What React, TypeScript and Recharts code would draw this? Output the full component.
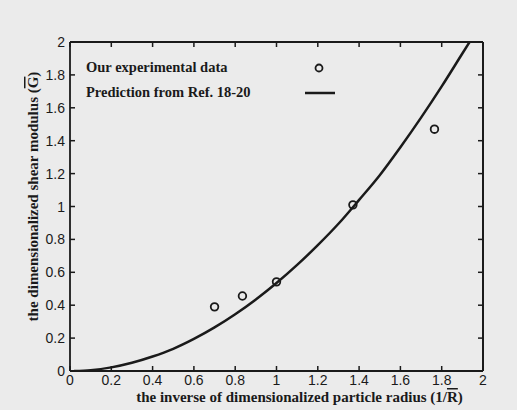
import React from "react";
import {
  ComposedChart,
  Line,
  Scatter,
  XAxis,
  YAxis,
  ReferenceLine,
} from "recharts";

// experimental points
const expX = [0.7, 0.835, 1.0, 1.37, 1.765];
const expY = [0.39, 0.456, 0.542, 1.01, 1.47];

// prediction curve (Ref. 18-20)
const predX = [0.02, 0.1, 0.2, 0.3, 0.4, 0.5, 0.6, 0.7, 0.8, 0.9, 1.0, 1.1, 1.2, 1.3, 1.4, 1.5, 1.6, 1.7, 1.8, 1.9, 1.935];
const predY = [0, 0.005, 0.022, 0.05, 0.088, 0.135, 0.195, 0.265, 0.345, 0.435, 0.535, 0.645, 0.765, 0.895, 1.04, 1.19, 1.36, 1.54, 1.73, 1.93, 2.0];

const xTicks = [0, 0.2, 0.4, 0.6, 0.8, 1, 1.2, 1.4, 1.6, 1.8, 2];
const yTicks = [0, 0.2, 0.4, 0.6, 0.8, 1, 1.2, 1.4, 1.6, 1.8, 2];

const points = expX.map((x, i) => ({ x, y: expY[i] }));
const curve = predX.map((x, i) => ({ x, y: predY[i] }));

const INK = "#1a1a1a";
const TICK_FONT = "'Liberation Sans', Arial, sans-serif";
const TITLE_FONT = "'Liberation Serif', 'Times New Roman', serif";
const TL = 5;

const fmt = (v: number) => String(Number(v.toFixed(1)));

const BottomTick = (p: any) => (
  <g>
    <line x1={p.x} x2={p.x} y1={p.y} y2={p.y - TL} stroke={INK} strokeWidth={1.5} />
    <text x={p.x} y={p.y + 14} textAnchor="middle" fill={INK} fontFamily={TICK_FONT} fontSize={14}>
      {fmt(p.payload.value)}
    </text>
  </g>
);

const TopTick = (p: any) => (
  <line x1={p.x} x2={p.x} y1={p.y} y2={p.y + TL} stroke={INK} strokeWidth={1.5} />
);

const LeftTick = (p: any) => (
  <g>
    <line x1={p.x} x2={p.x + TL} y1={p.y} y2={p.y} stroke={INK} strokeWidth={1.5} />
    <text x={p.x - 5} y={p.y + 5} textAnchor="end" fill={INK} fontFamily={TICK_FONT} fontSize={14}>
      {fmt(p.payload.value)}
    </text>
  </g>
);

const RightTick = (p: any) => (
  <line x1={p.x} x2={p.x - TL} y1={p.y} y2={p.y} stroke={INK} strokeWidth={1.5} />
);

const XTitle = ({ viewBox }: any) => (
  <text
    x={viewBox.x + viewBox.width / 2 + 23}
    y={viewBox.y + 31}
    textAnchor="middle"
    fill={INK}
    fontFamily={TITLE_FONT}
    fontWeight="bold"
    fontSize={15}
  >
    the inverse of  dimensionalized particle radius (1/<tspan style={{ textDecoration: "overline" }}>R</tspan>)
  </text>
);

const YTitle = ({ viewBox }: any) => {
  const cx = 38;
  const cy = viewBox.y + viewBox.height / 2 - 10;
  return (
    <text
      x={cx}
      y={cy}
      transform={`rotate(-90 ${cx} ${cy})`}
      textAnchor="middle"
      fill={INK}
      fontFamily={TITLE_FONT}
      fontWeight="bold"
      fontSize={15}
    >
      the dimensionalized shear modulus (<tspan style={{ textDecoration: "overline" }}>G</tspan>)
    </text>
  );
};

const LegendBox = () => (
  <div
    style={{
      position: "absolute",
      left: 86,
      top: 55,
      fontFamily: TITLE_FONT,
      fontWeight: "bold",
      fontSize: 14.5,
      color: INK,
      lineHeight: "25px",
    }}
  >
    <div style={{ display: "flex", alignItems: "center" }}>
      <span style={{ width: 217 }}>Our experimental data</span>
      <svg width={32} height={12}>
        <circle cx={16} cy={6} r={3.5} fill="none" stroke={INK} strokeWidth={1.8} />
      </svg>
    </div>
    <div style={{ display: "flex", alignItems: "center" }}>
      <span style={{ width: 217 }}>Prediction from Ref. 18-20</span>
      <svg width={34} height={12}>
        <line x1={2} x2={32} y1={6} y2={6} stroke={INK} strokeWidth={2.5} />
      </svg>
    </div>
  </div>
);

export default function App() {
  return (
    <div style={{ position: "absolute", left: 0, top: 0, width: 517, height: 410, background: "#ebebeb" }}>
      <ComposedChart width={517} height={410} margin={{ top: 41, right: 33, left: 0, bottom: 0 }}>
        <XAxis
          xAxisId="b"
          type="number"
          dataKey="x"
          domain={[0, 2]}
          ticks={xTicks}
          height={39}
          tickSize={0}
          tickMargin={0}
          tickLine={false}
          tick={<BottomTick />}
          axisLine={{ stroke: INK, strokeWidth: 1.8 }}
          allowDataOverflow
          label={<XTitle />}
        />
        <XAxis
          xAxisId="t"
          orientation="top"
          type="number"
          dataKey="x"
          domain={[0, 2]}
          ticks={xTicks}
          height={1}
          tickSize={0}
          tickMargin={0}
          tickLine={false}
          tick={<TopTick />}
          axisLine={{ stroke: INK, strokeWidth: 1.8 }}
          allowDataOverflow
        />
        <YAxis
          yAxisId="l"
          type="number"
          dataKey="y"
          domain={[0, 2]}
          ticks={yTicks}
          width={70}
          tickSize={0}
          tickMargin={0}
          tickLine={false}
          tick={<LeftTick />}
          axisLine={{ stroke: INK, strokeWidth: 1.8 }}
          allowDataOverflow
          label={<YTitle />}
        />
        <YAxis
          yAxisId="r"
          orientation="right"
          type="number"
          dataKey="y"
          domain={[0, 2]}
          ticks={yTicks}
          width={1}
          tickSize={0}
          tickMargin={0}
          tickLine={false}
          tick={<RightTick />}
          axisLine={{ stroke: INK, strokeWidth: 1.8 }}
          allowDataOverflow
        />
        {/* top and right sides of the frame */}
        <ReferenceLine xAxisId="b" yAxisId="l" y={2} stroke={INK} strokeWidth={1.8} ifOverflow="visible" />
        <ReferenceLine xAxisId="b" yAxisId="l" x={2} stroke={INK} strokeWidth={1.8} ifOverflow="visible" />
        {/* the curve sits on the top/right axes (same 0..2 domains) so those axes get drawn too */}
        <Line
          xAxisId="t"
          yAxisId="r"
          data={curve}
          dataKey="y"
          type="monotone"
          stroke={INK}
          strokeWidth={2.5}
          dot={false}
          activeDot={false}
          isAnimationActive={false}
        />
        <Scatter
          xAxisId="b"
          yAxisId="l"
          data={points}
          dataKey="y"
          shape={(p: any) => (
            <circle cx={p.cx} cy={p.cy} r={3.8} fill="none" stroke={INK} strokeWidth={1.8} />
          )}
          isAnimationActive={false}
        />
      </ComposedChart>
      <LegendBox />
    </div>
  );
}
